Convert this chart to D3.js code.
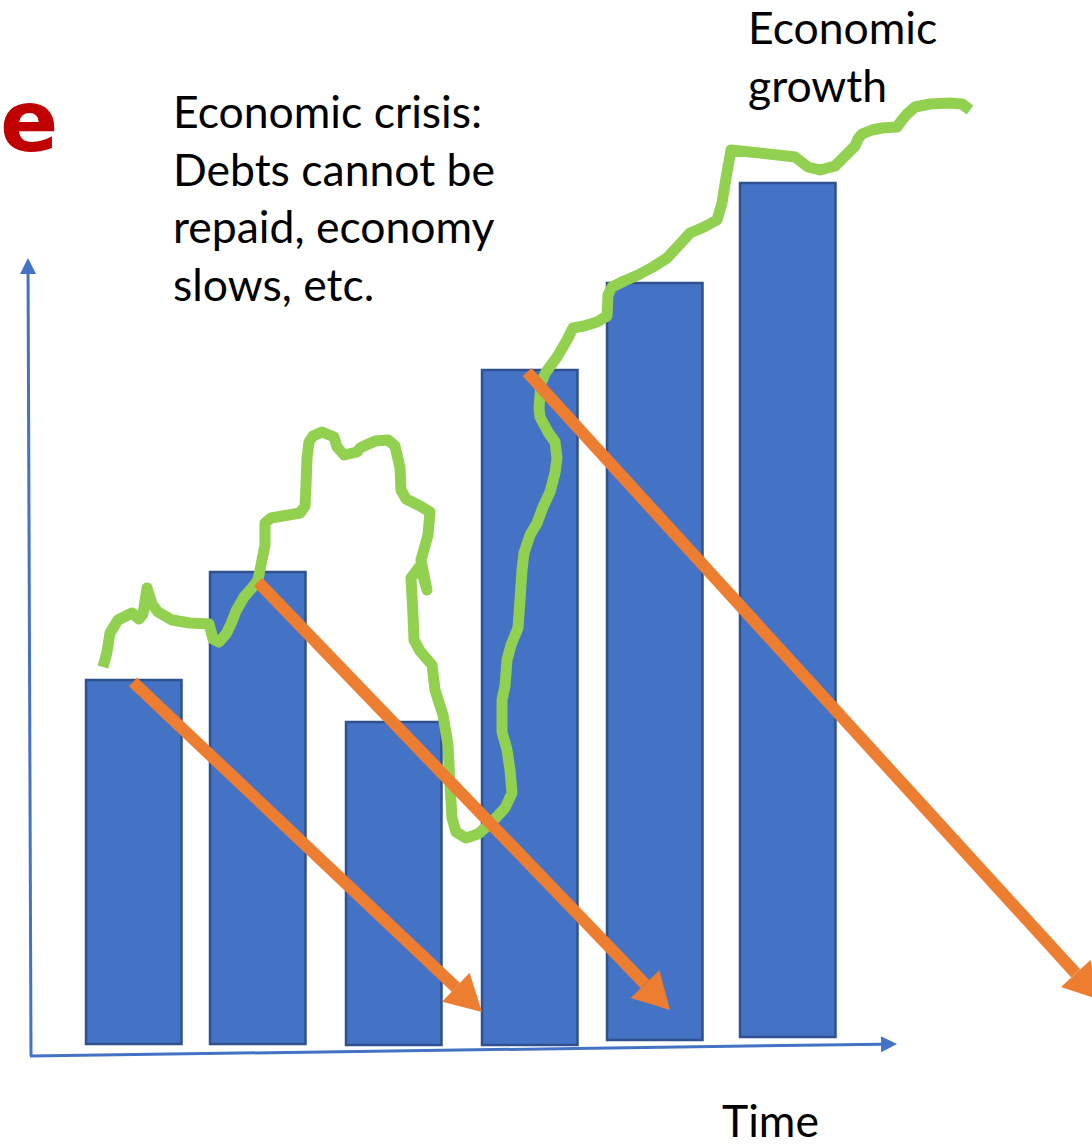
<!DOCTYPE html>
<html>
<meta charset="utf-8">
<style>
    body {
        margin: 0;
        background: white;
    }
    .note {
        font-family: Lato, "Open Sans", sans-serif;
        font-size: 44.5px;
        fill: black;
    }
</style>
<body>
<script src="https://cdn.jsdelivr.net/npm/d3@7"></script>
<div id="container"></div>
<script>
// time runs left to right, level runs bottom to top (both 0..100)
var barStart = [5.6, 18.0, 31.6, 45.2, 57.7, 71.0];
var barTop   = [37.0, 47.8, 32.8, 68.0, 76.7, 86.7];
var barBase  = [0.6, 0.6, 0.5, 0.5, 1.0, 1.3];
var barSpan  = 9.55;

var debtFrom = [[10.3, 36.8], [22.8, 46.8], [49.7, 67.8]];
var debtTo   = [[45.2, 3.8], [64.0, 4.0], [107.0, 5.0]];

var growth = [
    [7.3, 38.3], [7.7, 39.8], [8.0, 41.7], [8.8, 43.0], [10.2, 43.7], [10.9, 43.1],
    [11.3, 43.6], [11.7, 46.2], [12.2, 44.6], [12.8, 43.8], [14.2, 43.0], [16.0, 42.7],
    [17.9, 42.6], [18.3, 41.1], [18.9, 40.8], [19.6, 41.6], [20.1, 42.6], [20.6, 43.9],
    [21.4, 45.3], [22.2, 46.2], [22.8, 47.0], [23.2, 49.0], [23.5, 50.5], [23.5, 52.7],
    [24.1, 53.2], [27.0, 53.7], [27.5, 54.4], [27.6, 56.5], [27.7, 59.2], [27.9, 60.8],
    [28.3, 61.4], [29.2, 61.8], [30.4, 61.3], [30.7, 60.3], [31.4, 59.5], [32.7, 59.8],
    [33.0, 60.2], [34.5, 60.9], [35.8, 61.0], [36.5, 60.4], [37.0, 58.2], [37.1, 56.0],
    [37.6, 55.1], [39.0, 54.4], [40.0, 53.8], [39.8, 51.5], [39.1, 49.0], [39.7, 46.0],
    [39.0, 48.4], [38.1, 47.2], [38.3, 43.5], [38.4, 41.0], [39.0, 39.9], [40.2, 38.5],
    [40.5, 36.0], [41.3, 33.5], [41.8, 30.5], [42.0, 26.5], [42.2, 23.2], [42.6, 21.8],
    [43.6, 21.2], [44.8, 21.6], [46.2, 22.8], [47.5, 24.2], [48.2, 25.7], [48.0, 28.0],
    [47.7, 30.0], [47.2, 31.8], [47.2, 35.0], [47.5, 36.4], [47.7, 39.0], [48.1, 40.5],
    [48.8, 42.2], [49.0, 45.0], [49.2, 48.0], [49.4, 49.7], [50.0, 51.5], [50.7, 52.7],
    [51.3, 54.3], [52.0, 55.8], [52.5, 57.7], [52.7, 59.2], [52.5, 60.8], [51.8, 61.8],
    [51.0, 63.3], [50.9, 64.2], [51.1, 66.7], [51.6, 67.8], [52.7, 69.3], [53.7, 71.0],
    [54.3, 72.2], [55.4, 72.4], [56.7, 72.8], [57.7, 73.4], [57.8, 75.5], [58.2, 76.3],
    [59.4, 76.9], [60.8, 77.5], [62.3, 78.3], [63.7, 79.2], [65.0, 80.6], [66.0, 81.7],
    [67.4, 82.3], [68.7, 83.0], [69.2, 84.7], [69.6, 87.2], [70.1, 90.0], [73.0, 89.7],
    [76.5, 89.3], [77.8, 88.3], [79.0, 88.0], [80.5, 88.4], [81.6, 89.5], [82.5, 90.4],
    [82.8, 91.1], [83.2, 91.6], [84.2, 92.0], [85.2, 92.2], [86.7, 92.3], [87.2, 93.0],
    [87.7, 93.6], [88.5, 94.3], [90.0, 94.6], [92.0, 94.7], [93.2, 94.6], [94.0, 94.0]
];

var crisisLines = ["Economic crisis:", "Debts cannot be", "repaid, economy", "slows, etc."];
var growthLines = ["Economic", "growth"];
var xTitle = "Time";

var width = 1092, height = 1147;
var svg = d3.select("#container").append("svg")
    .attr("width", width)
    .attr("height", height);

var x = d3.scaleLinear().domain([0, 100]).range([30, 1030]);
var y = d3.scaleLinear().domain([0, 100]).range([1050, 50]);

// bars
svg.selectAll("rect.bar")
    .data(barStart)
    .enter()
    .append("rect")
    .attr("class", "bar")
    .attr("x", function(d) { return x(d); })
    .attr("width", function(d) { return x(d + barSpan) - x(d); })
    .attr("y", function(d, i) { return y(barTop[i]); })
    .attr("height", function(d, i) { return y(barBase[i]) - y(barTop[i]); })
    .style("fill", "#4472C4")
    .style("stroke", "#2F528F")
    .style("stroke-width", 2.5);

// axes drawn as arrows
var axisBlue = "#4472C4";
function arrowHead(p, q, len, half) {
    var dx = q[0] - p[0], dy = q[1] - p[1];
    var d = Math.sqrt(dx * dx + dy * dy);
    var ux = dx / d, uy = dy / d;
    var bx = q[0] - ux * len, by = q[1] - uy * len;
    return {
        base: [bx, by],
        pts: [[q[0], q[1]], [bx - uy * half, by + ux * half], [bx + uy * half, by - ux * half]]
    };
}
function drawArrow(from, to, color, w, len, half) {
    var p = [x(from[0]), y(from[1])], q = [x(to[0]), y(to[1])];
    var h = arrowHead(p, q, len, half);
    svg.append("line")
        .attr("x1", p[0]).attr("y1", p[1])
        .attr("x2", h.base[0]).attr("y2", h.base[1])
        .style("stroke", color)
        .style("stroke-width", w);
    svg.append("polygon")
        .attr("points", h.pts.map(function(d) { return d.join(","); }).join(" "))
        .style("fill", color);
}
drawArrow([0.1, -0.6], [-0.2, 79.2], axisBlue, 3, 16, 8);
drawArrow([0.0, -0.6], [86.7, 0.6], axisBlue, 3, 16, 8);

// growth line
var line = d3.line()
    .x(function(d) { return x(d[0]); })
    .y(function(d) { return y(d[1]); });
svg.append("path")
    .datum(growth)
    .attr("d", line)
    .style("fill", "none")
    .style("stroke", "#92D050")
    .style("stroke-width", 11)
    .style("stroke-linejoin", "round");

// debt arrows
debtFrom.forEach(function(d, i) {
    drawArrow(d, debtTo[i], "#ED7D31", 12, 36, 20);
});

// texts
svg.append("g").selectAll("text")
    .data(crisisLines)
    .enter()
    .append("text")
    .attr("class", "note")
    .attr("x", 173)
    .attr("y", function(d, i) { return 128 + i * 57.5; })
    .text(function(d) { return d; });

svg.append("g").selectAll("text")
    .data(growthLines)
    .enter()
    .append("text")
    .attr("class", "note")
    .attr("x", 748)
    .attr("y", function(d, i) { return 44 + i * 57.5; })
    .text(function(d) { return d; });

svg.append("text")
    .attr("class", "note")
    .attr("x", 722)
    .attr("y", 1137)
    .text(xTitle);

svg.append("text")
    .attr("x", 0)
    .attr("y", 151)
    .style("font-family", "DejaVu Sans")
    .style("font-weight", "bold")
    .style("font-size", "86px")
    .style("fill", "#C00000")
    .text("e");
</script>
</body>
</html>
